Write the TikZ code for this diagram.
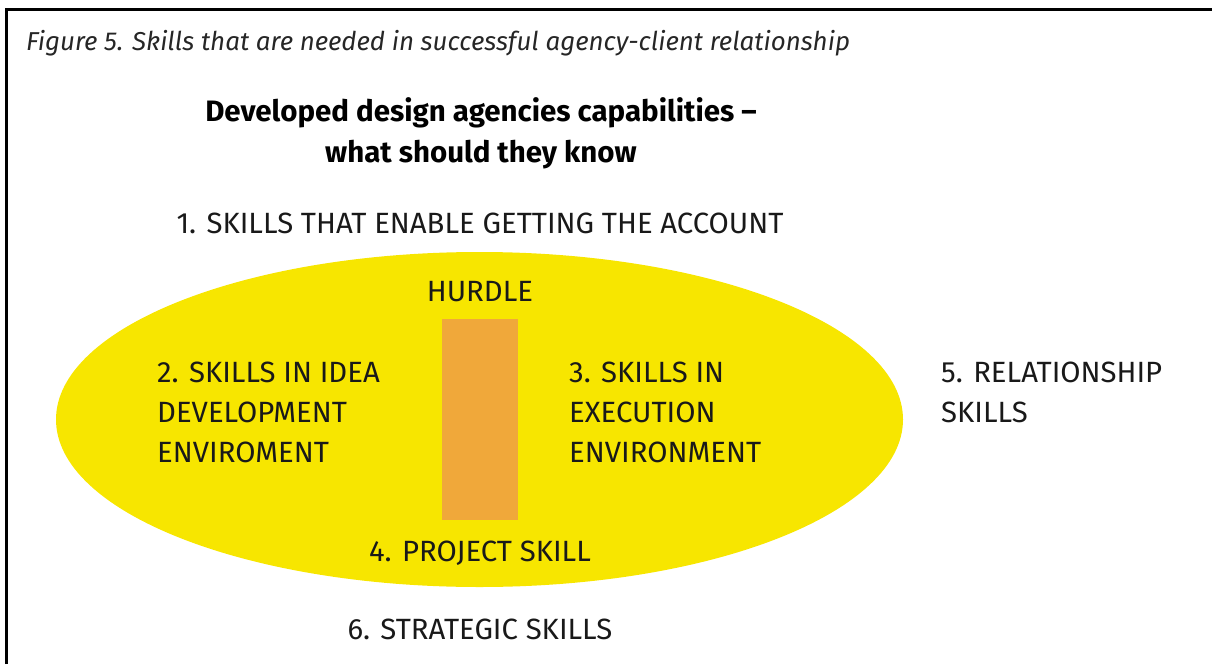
\documentclass[tikz,border=0pt]{standalone}
\usepackage{fontspec}
\setmainfont{Fira Sans}
\definecolor{ovalyellow}{HTML}{F7E600}
\definecolor{hurdleorange}{HTML}{F0A83A}
\tikzset{
  label/.style={inner sep=0pt, font=\fontsize{29.3}{40}\selectfont, text=black!90},
  block/.style={label, align=left, anchor=west},
  caption/.style={inner sep=0pt, font=\fontsize{25.9}{30}\selectfont\itshape, text=black!85},
  heading/.style={inner sep=0pt, align=center, font=\fontsize{29.5}{41}\selectfont\bfseries}
}
\begin{document}
\begin{tikzpicture}[x=1pt, y=-1pt]
  \useasboundingbox (0,0) rectangle (1212,664);
  % open frame: left and top edges only
  \draw[line width=3pt] (6.5,664) -- (6.5,9.5) -- (1212,9.5);

  \node[caption, anchor=base west] (cap) at (26,50)
    {Figure 5. Skills that are needed in successful agency-client relationship};
  \node[heading] (title) at (481,133)
    {Developed design agencies capabilities –\\what should they know};

  \node[label, anchor=base] (account) at (480,233) {1. SKILLS THAT ENABLE GETTING THE ACCOUNT};

  % the agency oval and the hurdle between the two environments
  \fill[ovalyellow] (479.5,419.5) ellipse [x radius=423.5, y radius=167.5];
  \node[fill=hurdleorange, inner sep=0pt, minimum width=76pt, minimum height=201pt] (hurdlebar) at (480,419.5) {};

  \node[label, anchor=base] (hurdle) at (480,301) {HURDLE};
  \node[block] (idea) at (157,412) {2. SKILLS IN IDEA\\DEVELOPMENT\\ENVIROMENT};
  \node[block] (exec) at (569,412) {3. SKILLS IN\\EXECUTION\\ENVIRONMENT};
  \node[label, anchor=base] (project) at (480,561) {4. PROJECT SKILL};
  \node[block] (relation) at (941,392) {5. RELATIONSHIP\\SKILLS};
  \node[label, anchor=base] (strategic) at (480,639) {6. STRATEGIC SKILLS};
\end{tikzpicture}
\end{document}
